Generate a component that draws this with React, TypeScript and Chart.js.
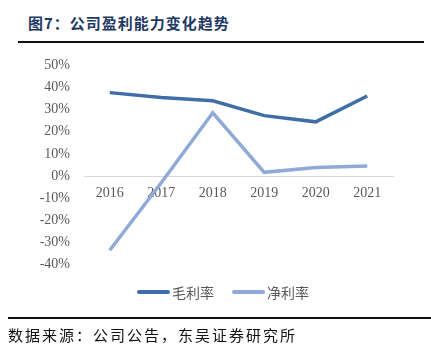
import React, { useEffect, useRef } from "react";
import { Chart, registerables } from "chart.js";
Chart.register(...registerables);

const years = ["2016", "2017", "2018", "2019", "2020", "2021"];
const grossMargin = [37.7, 35.5, 34.0, 27.3, 24.5, 36.2];
const netMargin = [-33.5, -3.0, 28.6, 1.7, 3.9, 4.5];
const seriesNames = ["毛利率", "净利率"];
const yTicks = [-40, -30, -20, -10, 0, 10, 20, 30, 40, 50];

const DARK = "#3F6DA8";
const LIGHT = "#8FAAD6";
const colors = [DARK, LIGHT];

export default function App() {
  const ref = useRef<HTMLCanvasElement>(null);
  useEffect(() => {
    const ctx = ref.current!;
    const chart = new Chart(ctx, {
      type: "line",
      data: {
        labels: years,
        datasets: [
          { label: seriesNames[0], data: grossMargin, borderColor: DARK, backgroundColor: DARK, borderWidth: 3.5, pointRadius: 0, tension: 0 },
          { label: seriesNames[1], data: netMargin, borderColor: LIGHT, backgroundColor: LIGHT, borderWidth: 3.5, pointRadius: 0, tension: 0 },
        ],
      },
      options: {
        animation: false,
        responsive: false,
        maintainAspectRatio: false,
        layout: { padding: { top: 7, right: 38, bottom: 8, left: 0 } },
        plugins: {
          tooltip: { enabled: false },
          legend: { display: false },
        },
        scales: {
          x: {
            offset: true,
            position: { y: 0 } as any,
            grid: { display: false, drawTicks: false },
            border: { display: true, color: "#D9D9D9", width: 1 },
            ticks: { color: "#595959", padding: 9, font: { family: "'Liberation Serif'", size: 14 } },
          },
          y: {
            min: -40,
            max: 50,
            afterBuildTicks: (axis: any) => {
              axis.ticks = yTicks.map((v) => ({ value: v }));
            },
            afterFit: (axis: any) => {
              axis.width = 84;
            },
            grid: { display: false, drawTicks: false },
            border: { display: false },
            ticks: {
              color: "#595959",
              padding: 14,
              font: { family: "'Liberation Serif'", size: 14 },
              callback: (v: any) => v + "%",
            },
          },
        },
      },
    });
    return () => chart.destroy();
  }, []);

  const legendX = [137, 232];

  return (
    <div style={{ position: "fixed", left: 0, top: 0, width: 431, height: 364, background: "#fff", overflow: "hidden" }}>
      <div
        style={{
          position: "absolute",
          left: 28,
          top: 12,
          fontFamily: "'Noto Sans CJK SC'",
          fontWeight: 700,
          fontSize: 15,
          color: "#1F3864",
          letterSpacing: 1,
        }}
      >
        图7：公司盈利能力变化趋势
      </div>
      <div style={{ position: "absolute", left: 18, top: 41, width: 406, height: 2, background: "#111" }} />
      <canvas ref={ref} width={431} height={244} style={{ position: "absolute", left: 0, top: 43, width: 431, height: 244 }} />
      {seriesNames.map((name, i) => (
        <div key={name} style={{ position: "absolute", left: legendX[i], top: 283, height: 18, display: "flex", alignItems: "center" }}>
          <div style={{ width: 33, height: 4, borderRadius: 2, background: colors[i] }} />
          <span style={{ marginLeft: 2, fontFamily: "'Noto Sans CJK SC'", fontSize: 14, color: "#595959", lineHeight: "18px" }}>{name}</span>
        </div>
      ))}
      <div style={{ position: "absolute", left: 8, top: 317, width: 423, height: 2, background: "#111" }} />
      <div
        style={{
          position: "absolute",
          left: 8,
          top: 324,
          fontFamily: "'Noto Sans CJK SC'",
          fontSize: 15,
          color: "#111",
          letterSpacing: 2,
        }}
      >
        数据来源：公司公告，东吴证券研究所
      </div>
    </div>
  );
}
